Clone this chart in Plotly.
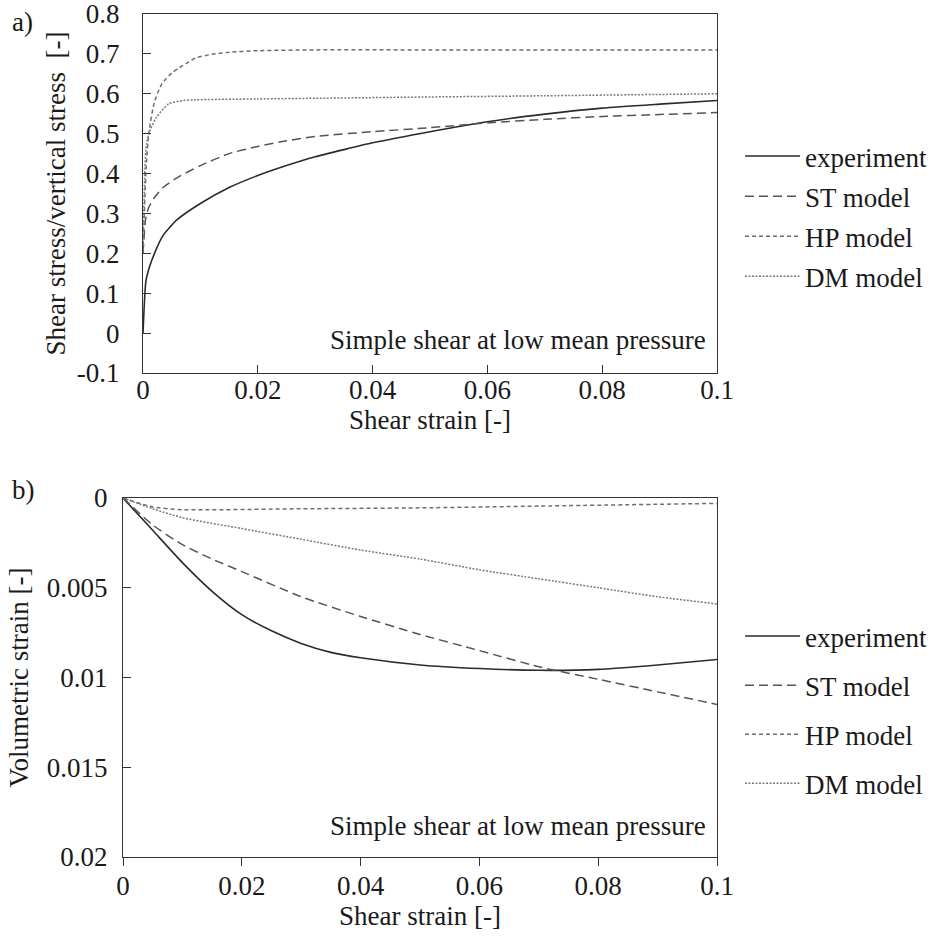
import plotly.graph_objects as go

# ---------------- data: panel a) stress ratio ----------------
xa_exp = [0, 0.0005, 0.001, 0.002, 0.0035, 0.006, 0.01, 0.015, 0.02, 0.025, 0.03, 0.035, 0.04, 0.05, 0.06, 0.07, 0.08, 0.09, 0.1]
ya_exp = [0.0, 0.13, 0.16, 0.2, 0.245, 0.285, 0.325, 0.365, 0.395, 0.42, 0.442, 0.46, 0.477, 0.505, 0.53, 0.549, 0.564, 0.574, 0.583]

xa_st = [0, 0.0005, 0.001, 0.002, 0.0035, 0.006, 0.01, 0.015, 0.02, 0.025, 0.03, 0.04, 0.05, 0.06, 0.07, 0.08, 0.09, 0.1]
ya_st = [0.2, 0.29, 0.315, 0.34, 0.365, 0.39, 0.42, 0.45, 0.468, 0.482, 0.493, 0.505, 0.515, 0.527, 0.536, 0.543, 0.548, 0.553]

xa_hp = [0, 0.0005, 0.001, 0.002, 0.0033, 0.005, 0.0063, 0.008, 0.0092, 0.012, 0.015, 0.02, 0.03, 0.05, 0.1]
ya_hp = [0.2, 0.4, 0.5, 0.58, 0.625, 0.652, 0.665, 0.68, 0.69, 0.699, 0.704, 0.708, 0.71, 0.71, 0.71]

xa_dm = [0, 0.0003, 0.0005, 0.001, 0.0023, 0.0045, 0.007, 0.0092, 0.02, 0.05, 0.07, 0.1]
ya_dm = [0.2, 0.4, 0.46, 0.5, 0.54, 0.575, 0.583, 0.585, 0.587, 0.592, 0.595, 0.6]

# ---------------- data: panel b) volumetric strain ----------------
xb_exp = [0, 0.005, 0.01, 0.015, 0.02, 0.025, 0.03, 0.035, 0.04, 0.05, 0.06, 0.07, 0.08, 0.09, 0.1]
yb_exp = [0, 0.0018, 0.0036, 0.0052, 0.0065, 0.0074, 0.0081, 0.0086, 0.0089, 0.0093, 0.0095, 0.0096, 0.00955, 0.0093, 0.0090]

xb_st = [0, 0.005, 0.01, 0.015, 0.02, 0.03, 0.04, 0.05, 0.06, 0.07, 0.08, 0.09, 0.1]
yb_st = [0, 0.0015, 0.0026, 0.0034, 0.0041, 0.0055, 0.0066, 0.0076, 0.0085, 0.0094, 0.0101, 0.0108, 0.0115]

xb_hp = [0, 0.005, 0.01, 0.03, 0.05, 0.07, 0.1]
yb_hp = [0, 0.0005, 0.00065, 0.0006, 0.00055, 0.00045, 0.0003]

xb_dm = [0, 0.005, 0.01, 0.02, 0.03, 0.04, 0.05, 0.06, 0.07, 0.08, 0.09, 0.1]
yb_dm = [0, 0.0006, 0.0011, 0.0017, 0.0023, 0.0029, 0.0034, 0.0040, 0.0045, 0.0050, 0.0055, 0.0059]

series_names = ["experiment", "ST model", "HP model", "DM model"]

x_tickvals = [0, 0.02, 0.04, 0.06, 0.08, 0.1]
x_ticktext = ["0", "0.02", "0.04", "0.06", "0.08", "0.1"]
ya_tickvals = [-0.1, 0, 0.1, 0.2, 0.3, 0.4, 0.5, 0.6, 0.7, 0.8]
ya_ticktext = ["-0.1", "0", "0.1", "0.2", "0.3", "0.4", "0.5", "0.6", "0.7", "0.8"]
yb_tickvals = [0, 0.005, 0.01, 0.015, 0.02]
yb_ticktext = ["0", "0.005", "0.01", "0.015", "0.02"]

FONT = "Liberation Serif"
FS = 27
TXT = "#1a1a1a"

styles = [
    dict(color="#2b2b2b", width=1.6, dash="solid"),
    dict(color="#555555", width=1.5, dash="9px,5px"),
    dict(color="#6e6e6e", width=1.5, dash="4px,3px"),
    dict(color="#7a7a7a", width=1.5, dash="2px,1.5px"),
]

fig = go.Figure()

panel_a = [(xa_exp, ya_exp), (xa_st, ya_st), (xa_hp, ya_hp), (xa_dm, ya_dm)]
panel_b = [(xb_exp, yb_exp), (xb_st, yb_st), (xb_hp, yb_hp), (xb_dm, yb_dm)]

for i, (xs, ys) in enumerate(panel_a):
    fig.add_trace(go.Scatter(x=xs, y=ys, mode="lines", name=series_names[i],
                             line=dict(shape="spline", smoothing=0.6, **styles[i]),
                             xaxis="x", yaxis="y", legend="legend",
                             legendgroup="a" + str(i)))
for i, (xs, ys) in enumerate(panel_b):
    fig.add_trace(go.Scatter(x=xs, y=ys, mode="lines", name=series_names[i],
                             line=dict(shape="spline", smoothing=0.6, **styles[i]),
                             xaxis="x2", yaxis="y2", legend="legend2",
                             legendgroup="b" + str(i)))

# the page body margin is removed by post_script, so the figure fills the window
W, H = 934, 941
def px(v): return v / W
def py(v): return 1 - v / H

axis_common = dict(showline=True, linecolor="#333333", linewidth=1.3, mirror=True,
                   showgrid=False, zeroline=False, ticklen=8, tickcolor="#333333",
                   automargin=False, ticklabeloverflow="allow",
                   tickfont=dict(family=FONT, size=FS, color=TXT))

tfont = dict(family=FONT, size=FS, color=TXT)

fig.update_layout(
    template="none",
    width=W, height=H,
    margin=dict(l=0, r=0, t=0, b=0, autoexpand=False),
    paper_bgcolor="white", plot_bgcolor="white",
    font=dict(family=FONT, size=FS, color=TXT),
    xaxis=dict(domain=[px(143), px(717)], range=[0, 0.1], tickvals=x_tickvals, ticktext=x_ticktext,
               ticks="inside", anchor="y", ticklabelstandoff=-8,
               title=dict(text="Shear strain [-]", font=tfont, standoff=0),
               **axis_common),
    yaxis=dict(domain=[py(373), py(14)], range=[-0.1, 0.8], tickvals=ya_tickvals, ticktext=ya_ticktext,
               ticks="inside", anchor="x", ticklabelstandoff=17,
               title=dict(text="Shear stress/vertical stress  [-]", font=tfont, standoff=3),
               **axis_common),
    xaxis2=dict(domain=[px(123), px(717)], range=[0, 0.1], tickvals=x_tickvals, ticktext=x_ticktext,
                ticks="outside", anchor="y2", ticklabelstandoff=-4,
                title=dict(text="Shear strain [-]", font=tfont, standoff=0),
                **axis_common),
    yaxis2=dict(domain=[py(857), py(498)], range=[0.02, 0], tickvals=yb_tickvals, ticktext=yb_ticktext,
                ticks="inside", anchor="x2", ticklabelstandoff=9,
                title=dict(text="Volumetric strain [-]", font=tfont, standoff=10),
                **axis_common),
    legend=dict(x=px(740), y=py(132), xanchor="left", yanchor="top",
                bgcolor="rgba(0,0,0,0)", itemwidth=55, tracegroupgap=2,
                font=tfont, itemclick=False),
    legend2=dict(x=px(740), y=py(612), xanchor="left", yanchor="top",
                 bgcolor="rgba(0,0,0,0)", itemwidth=55, tracegroupgap=11,
                 font=tfont, itemclick=False),
    annotations=[
        dict(text="a)", x=px(10), y=py(22), xref="paper", yref="paper", xanchor="left", yanchor="middle",
             showarrow=False, font=tfont),
        dict(text="b)", x=px(10), y=py(490), xref="paper", yref="paper", xanchor="left", yanchor="middle",
             showarrow=False, font=tfont),
        dict(text="Simple shear at low mean pressure", x=px(708), y=py(340), xref="paper", yref="paper",
             xanchor="right", yanchor="middle", showarrow=False, font=tfont),
        dict(text="Simple shear at low mean pressure", x=px(708), y=py(826), xref="paper", yref="paper",
             xanchor="right", yanchor="middle", showarrow=False, font=tfont),
    ],
    showlegend=True,
)

fig.write_html("out.html", config={"displayModeBar": False},
               post_script="document.body.style.margin='0px';")
